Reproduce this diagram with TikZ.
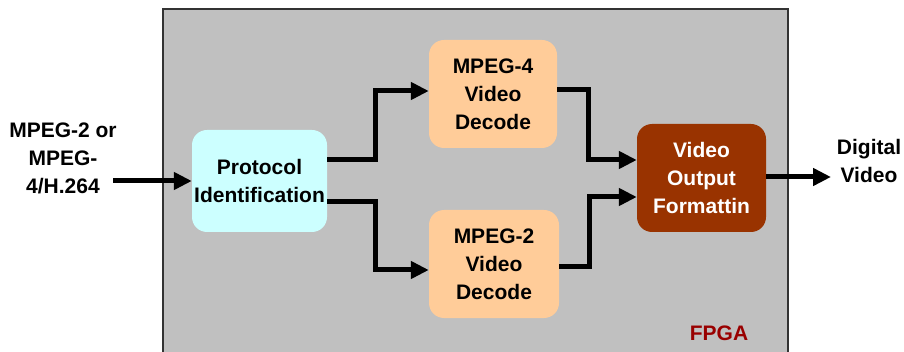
\documentclass[tikz,border=0pt]{standalone}
\usepackage{fontspec}
\setmainfont{Liberation Sans}
\usetikzlibrary{arrows.meta}
\definecolor{fpgagray}{HTML}{C0C0C0}
\definecolor{protcyan}{HTML}{CCFFFF}
\definecolor{decpeach}{HTML}{FFCC99}
\definecolor{outbrown}{HTML}{993300}
\definecolor{fpgared}{HTML}{990000}
\begin{document}
\begin{tikzpicture}
[x=1pt,y=-1pt,%
  every node/.style={font=\fontsize{21}{28}\selectfont\bfseries,align=center},%
  blk/.style={rounded corners=15pt,inner sep=0pt},%
  flow/.style={line width=5pt,-{Triangle[length=18pt,width=17pt]}}]
\useasboundingbox (0,0) rectangle (904,352);
\fill[fpgagray,draw=black!80,line width=1.5pt] (163,9) rectangle (788,362);
\node[blk,fill=protcyan,minimum width=135pt,minimum height=102pt] (prot) at (259.5,181) {Protocol\\Identification};
\node[blk,fill=decpeach,minimum width=128pt,minimum height=108pt] (mpegfour) at (493,94) {MPEG-4\\Video\\Decode};
\node[blk,fill=decpeach,minimum width=130pt,minimum height=108pt] (mpegtwo) at (494,264) {MPEG-2\\Video\\Decode};
\node[blk,fill=outbrown,text=white,minimum width=129pt,minimum height=108pt] (vout) at (701.5,178) {Video\\Output\\Formattin};
\node (inlabel) at (63,158) {MPEG-2 or\\MPEG-\\4/H.264};
\node (outlabel) at (869,161) {Digital\\Video};
\node[text=fpgared] (fpga) at (719,333) {FPGA};
\coordinate (in) at (113,181);
\coordinate (out) at (831,177);
% connectors
\draw[flow] (in) -- (prot.west);
\draw[flow] ([yshift=21pt]prot.east) -- ++(48,0) |- ([yshift=3pt]mpegfour.west);
\draw[flow] ([yshift=-21pt]prot.east) -- ++(48,0) |- ([yshift=-6pt]mpegtwo.west);
\draw[flow] ([yshift=4pt]mpegfour.east) -- ++(31,0) |- ([yshift=18pt]vout.west);
\draw[flow] ([yshift=-3pt]mpegtwo.east) -- ++(30,0) |- ([yshift=-19pt]vout.west);
\draw[flow] ([yshift=1pt]vout.east) -- (out);
\end{tikzpicture}
\end{document}
